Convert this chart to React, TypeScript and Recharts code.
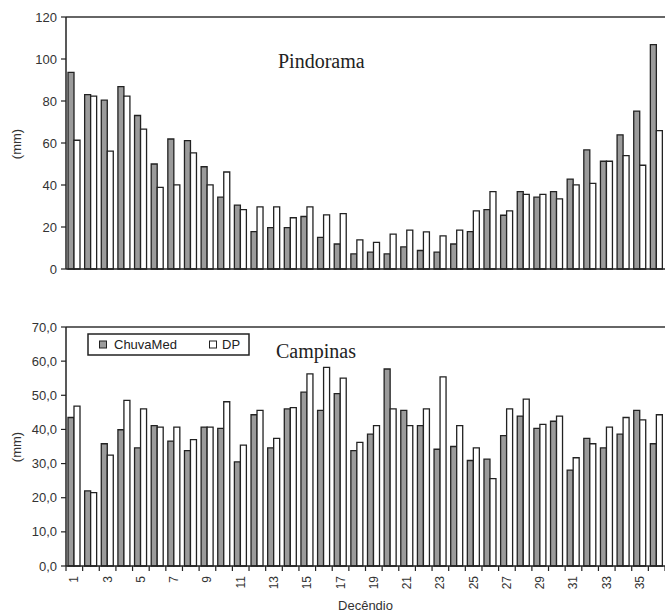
import React from 'react';
import { BarChart, Bar, XAxis, YAxis, ReferenceLine } from 'recharts';

const decendios = ['1','2','3','4','5','6','7','8','9','10','11','12','13','14','15','16','17','18','19','20','21','22','23','24','25','26','27','28','29','30','31','32','33','34','35','36'];

const pindoramaChuva = [93.6,83.0,80.4,86.8,73.1,50.0,61.9,61.1,48.7,34.2,30.4,17.8,19.7,19.7,25.0,15.1,11.9,7.2,8.0,7.2,10.5,8.8,8.0,11.9,17.8,28.3,25.6,36.8,34.2,36.8,42.8,56.7,51.3,63.9,75.2,106.8];
const pindoramaDP = [61.3,82.3,56.1,82.3,66.6,38.9,40.1,55.3,40.1,46.2,28.3,29.6,29.6,24.4,29.6,25.8,26.4,13.9,12.7,16.6,18.5,17.7,15.8,18.5,27.7,36.8,27.7,35.5,35.5,33.4,40.1,40.8,51.3,54.0,49.4,65.9];

const campinasChuva = [43.5,22.0,35.8,39.9,34.6,41.1,36.6,33.8,40.7,40.3,30.5,44.3,34.6,46.0,50.9,45.6,50.5,33.8,38.6,57.7,45.6,41.1,34.2,35.0,30.9,31.3,38.2,43.9,40.3,42.4,28.1,37.4,34.6,38.6,45.6,35.8];
const campinasDP = [46.8,21.5,32.5,48.5,46.0,40.7,40.7,37.0,40.7,48.1,35.4,45.6,37.4,46.4,56.3,58.2,55.0,36.2,41.1,46.0,41.1,46.0,55.4,41.1,34.6,25.6,46.0,48.9,41.5,43.9,31.7,35.8,40.7,43.5,42.8,44.3];

const pindoramaTicks = [0, 20, 40, 60, 80, 100, 120];
const campinasTicks = [0, 10, 20, 30, 40, 50, 60, 70];

const seriesNames = ['ChuvaMed', 'DP'];

const pindoramaData = decendios.map((d, i) => ({ d, chuva: pindoramaChuva[i], dp: pindoramaDP[i] }));
const campinasData = decendios.map((d, i) => ({ d, chuva: campinasChuva[i], dp: campinasDP[i] }));

const W = 665;
const YW = 66;
const BAND = (W - YW) / decendios.length;
const SANS = '"Liberation Sans", Arial, sans-serif';
const SERIF = '"Liberation Serif", "Times New Roman", serif';
const DARK = '#222';
const GRAY = '#9b9b9b';

const XTick = (props: any) => {
  const { x, y, index, payload } = props;
  const half = BAND / 2;
  const showLabel = index % 2 === 0;
  const ly = y + 10;
  return (
    <g>
      <line x1={x - half} y1={y} x2={x - half} y2={y + 5} stroke={DARK} strokeWidth={1.2} />
      {index === decendios.length - 1 && (
        <line x1={x + half} y1={y} x2={x + half} y2={y + 5} stroke={DARK} strokeWidth={1.2} />
      )}
      {showLabel && (
        <text
          x={x}
          y={ly}
          textAnchor="end"
          dominantBaseline="central"
          transform={`rotate(-90 ${x} ${ly})`}
          fontSize={12}
          fontFamily={SANS}
          fill="#333"
        >
          {payload.value}
        </text>
      )}
    </g>
  );
};

const LegendBox = () => (
  <svg width={164} height={23} style={{ position: 'absolute', left: 87, top: 333 }}>
    <rect x={1} y={1} width={161} height={21} fill="#fff" stroke={DARK} strokeWidth={1.5} />
    <rect x={12.5} y={8} width={7} height={7} fill={GRAY} stroke={DARK} strokeWidth={1} />
    <text x={27} y={16} fontFamily={SANS} fontSize={13} fill="#222">{seriesNames[0]}</text>
    <rect x={122.5} y={8} width={7} height={7} fill="#fff" stroke={DARK} strokeWidth={1} />
    <text x={135} y={16} fontFamily={SANS} fontSize={13} fill="#222">{seriesNames[1]}</text>
  </svg>
);

const yTickStyle = { fontSize: 13, fontFamily: SANS, fill: '#333' };

const rotLabel = (text: string, cx: number, cy: number) => (
  <div
    style={{
      position: 'absolute',
      left: cx - 25,
      top: cy - 8,
      width: 50,
      height: 16,
      lineHeight: '16px',
      textAlign: 'center',
      transform: 'rotate(-90deg)',
      fontFamily: SANS,
      fontSize: 13,
      color: '#333',
    }}
  >
    {text}
  </div>
);

export default function App() {
  return (
    <div style={{ position: 'absolute', left: 0, top: 0, width: W, height: 613, background: '#fff' }}>
      <div style={{ position: 'absolute', left: 0, top: 0 }}>
        <BarChart width={W} height={300} data={pindoramaData} margin={{ top: 17, right: 0, left: 0, bottom: 0 }} barGap={0} barSize={6}>
          <XAxis dataKey="d" height={31} tick={false} tickLine={false} axisLine={{ stroke: DARK, strokeWidth: 1.5 }} />
          <YAxis
            width={YW}
            domain={[0, 120]}
            ticks={pindoramaTicks}
            tick={yTickStyle}
            tickSize={5}
            tickMargin={4}
            axisLine={{ stroke: DARK, strokeWidth: 1.5 }}
            tickLine={{ stroke: DARK, strokeWidth: 1.2 }}
          />
          <ReferenceLine y={120} stroke="#333" strokeWidth={1.3} />
          <Bar dataKey="chuva" name={seriesNames[0]} fill={GRAY} stroke={DARK} strokeWidth={1.3} isAnimationActive={false} />
          <Bar dataKey="dp" name={seriesNames[1]} fill="#fff" stroke={DARK} strokeWidth={1.3} isAnimationActive={false} />
        </BarChart>
      </div>
      <div style={{ position: 'absolute', left: 0, top: 300 }}>
        <BarChart width={W} height={313} data={campinasData} margin={{ top: 27, right: 0, left: 0, bottom: 0 }} barGap={0} barSize={6}>
          <XAxis
            dataKey="d"
            height={47}
            interval={0}
            tick={<XTick />}
            tickLine={false}
            tickSize={0}
            tickMargin={0}
            axisLine={{ stroke: DARK, strokeWidth: 1.5 }}
            label={{ value: 'Decêndio', position: 'insideBottom', offset: 3, style: { fontFamily: SANS, fontSize: 13, fill: '#333' } }}
          />
          <YAxis
            width={YW}
            domain={[0, 70]}
            ticks={campinasTicks}
            tickFormatter={(v: number) => v.toFixed(1).replace('.', ',')}
            tick={yTickStyle}
            tickSize={5}
            tickMargin={4}
            axisLine={{ stroke: DARK, strokeWidth: 1.5 }}
            tickLine={{ stroke: DARK, strokeWidth: 1.2 }}
          />
          <ReferenceLine y={70} stroke="#333" strokeWidth={1.3} />
          <Bar dataKey="chuva" name={seriesNames[0]} fill={GRAY} stroke={DARK} strokeWidth={1.3} isAnimationActive={false} />
          <Bar dataKey="dp" name={seriesNames[1]} fill="#fff" stroke={DARK} strokeWidth={1.3} isAnimationActive={false} />
        </BarChart>
      </div>
      <LegendBox />
      <div style={{ position: 'absolute', left: 278, top: 51, fontFamily: SERIF, fontSize: 20, lineHeight: '20px', color: '#222' }}>Pindorama</div>
      <div style={{ position: 'absolute', left: 276, top: 341, fontFamily: SERIF, fontSize: 20, lineHeight: '20px', color: '#222' }}>Campinas</div>
      {rotLabel('(mm)', 17, 144)}
      {rotLabel('(mm)', 17, 447)}
    </div>
  );
}
